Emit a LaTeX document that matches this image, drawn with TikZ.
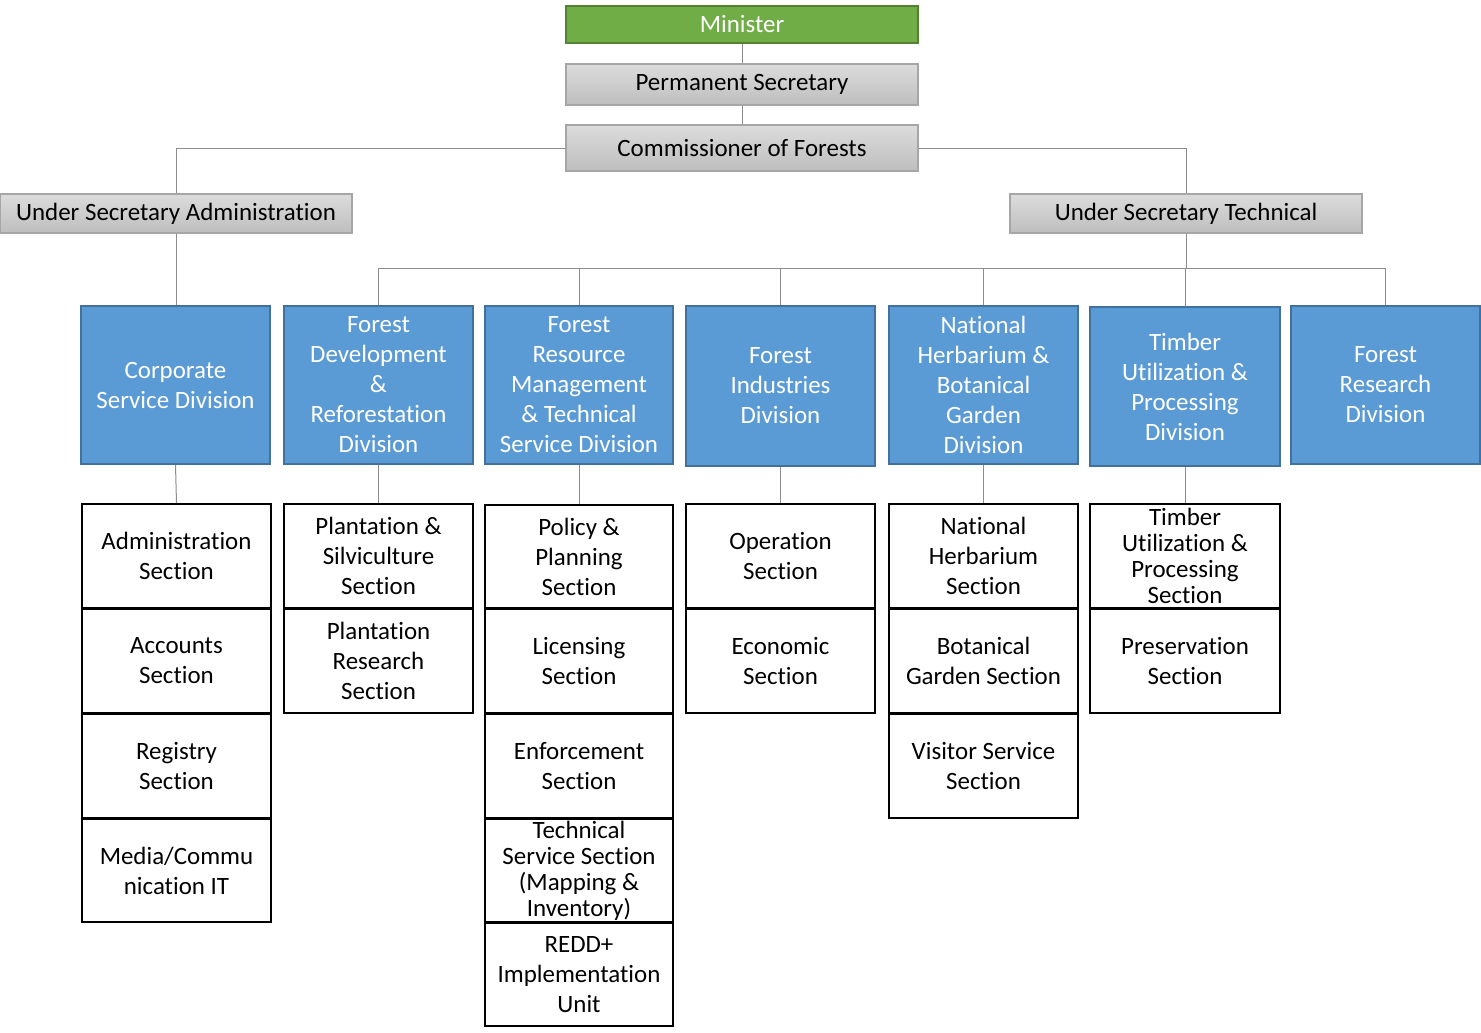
\documentclass[tikz,border=0pt]{standalone}
\usepackage{fontspec}
\setmainfont[Ligatures=NoCommon]{Carlito}
\definecolor{mingreen}{HTML}{70AD47}
\definecolor{mingreenb}{HTML}{548235}
\definecolor{divblue}{HTML}{5B9BD5}
\definecolor{divblueb}{HTML}{41719C}
\definecolor{graytop}{HTML}{DCDCDC}
\definecolor{graybot}{HTML}{BEBEBE}
\definecolor{grayb}{HTML}{A6A6A6}
\definecolor{connc}{HTML}{8C8C8C}
\begin{document}
\begin{tikzpicture}[x=0.75pt,y=-0.75pt,
  every node/.style={inner sep=0pt, align=center, font=\fontsize{18.7}{22.5}\selectfont},
  sz/.style 2 args={minimum width=0.75pt*#1, minimum height=0.75pt*#2},
  ministerbox/.style={draw=mingreenb, fill=mingreen, line width=1.5pt, text=white},
  graybox/.style={draw=grayb, top color=graytop, bottom color=graybot, line width=1pt, text=black},
  divbox/.style={draw=divblueb, fill=divblue, line width=1.5pt, text=white},
  secbox/.style={draw=black, fill=white, line width=1.5pt, text=black},
  tight/.style={font=\fontsize{18.7}{19.5}\selectfont},
  conn/.style={draw=connc, line width=0.75pt}]
\useasboundingbox (0,0) rectangle (1481,1032);

% top chain
\node[ministerbox, sz={352}{37}] (min) at (742,24.5) {Minister};
\node[graybox, sz={352}{41}] (ps) at (742,84.5) {Permanent Secretary};
\node[graybox, sz={352}{46}] (com) at (742,148) {Commissioner of Forests};
\node[graybox, sz={352}{39}] (usa) at (176,213.5) {Under Secretary Administration};
\node[graybox, sz={352}{39}] (ust) at (1186,213.5) {Under Secretary Technical};

% divisions
\node[divbox, sz={189}{158}] (csd) at (175.5,385) {Corporate\\Service Division};
\node[divbox, sz={189}{158}] (fdr) at (378.5,385) {Forest\\Development\\\&\\Reforestation\\Division};
\node[divbox, sz={188}{158}] (frm) at (579,385) {Forest\\Resource\\Management\\\& Technical\\Service Division};
\node[divbox, sz={189}{160}] (fid) at (780.5,386) {Forest\\Industries\\Division};
\node[divbox, sz={189}{158}] (nhb) at (983.5,385) {National\\Herbarium \&\\Botanical\\Garden\\Division};
\node[divbox, sz={190}{159}] (tup) at (1185,386.5) {Timber\\Utilization \&\\Processing\\Division};
\node[divbox, sz={189}{158}] (frd) at (1385.5,385) {Forest\\Research\\Division};

% column 1
\node[secbox, sz={189}{104}] (adm) at (176.5,556) {Administration\\Section};
\node[secbox, sz={189}{104}] (acc) at (176.5,661) {Accounts\\Section};
\node[secbox, sz={189}{104}] (reg) at (176.5,766) {Registry\\Section};
\node[secbox, sz={189}{103}] (med) at (176.5,870.5) {Media/Commu\\nication IT};
% column 2
\node[secbox, sz={189}{104}] (pss) at (378.5,556) {Plantation \&\\Silviculture\\Section};
\node[secbox, sz={189}{104}] (prs) at (378.5,661) {Plantation\\Research\\Section};
% column 3
\node[secbox, sz={188}{103}] (pol) at (579,556.5) {Policy \&\\Planning\\Section};
\node[secbox, sz={188}{104}] (lic) at (579,661) {Licensing\\Section};
\node[secbox, sz={188}{104}] (enf) at (579,766) {Enforcement\\Section};
\node[secbox, sz={188}{103}, tight] (tss) at (579,870.5) {Technical\\Service Section\\(Mapping \&\\Inventory)};
\node[secbox, sz={188}{103}] (redd) at (579,974.5) {REDD+\\Implementation\\Unit};
% column 4
\node[secbox, sz={189}{104}] (ops) at (780.5,556) {Operation\\Section};
\node[secbox, sz={189}{104}] (eco) at (780.5,661) {Economic\\Section};
% column 5
\node[secbox, sz={189}{104}] (nhs) at (983.5,556) {National\\Herbarium\\Section};
\node[secbox, sz={189}{104}] (bgs) at (983.5,661) {Botanical\\Garden Section};
\node[secbox, sz={189}{104}] (vss) at (983.5,766) {Visitor Service\\Section};
% column 6
\node[secbox, sz={190}{104}, tight] (tus) at (1185,556) {Timber\\Utilization \&\\Processing\\Section};
\node[secbox, sz={190}{104}] (pre) at (1185,661) {Preservation\\Section};

% connectors
\draw[conn] (min.south) -- (ps.north);
\draw[conn] (ps.south) -- (com.north);
\draw[conn] (com.west) -| (usa.north);
\draw[conn] (com.east) -| (ust.north);
\draw[conn] (usa.south) -- (usa.south |- csd.north);
\coordinate (bus) at (1186,268);
\draw[conn] (ust.south) -- (bus);
\draw[conn] (bus) -| (fdr.north);
\draw[conn] (bus) -| (frm.north);
\draw[conn] (bus) -| (fid.north);
\draw[conn] (bus) -| (nhb.north);
\draw[conn] (bus) -| (tup.north);
\draw[conn] (bus) -| (frd.north);
\draw[conn] (csd.south) -- (adm.north);
\draw[conn] (fdr.south) -- (pss.north);
\draw[conn] (frm.south) -- (pol.north);
\draw[conn] (fid.south) -- (ops.north);
\draw[conn] (nhb.south) -- (nhs.north);
\draw[conn] (tup.south) -- (tus.north);
\end{tikzpicture}
\end{document}
